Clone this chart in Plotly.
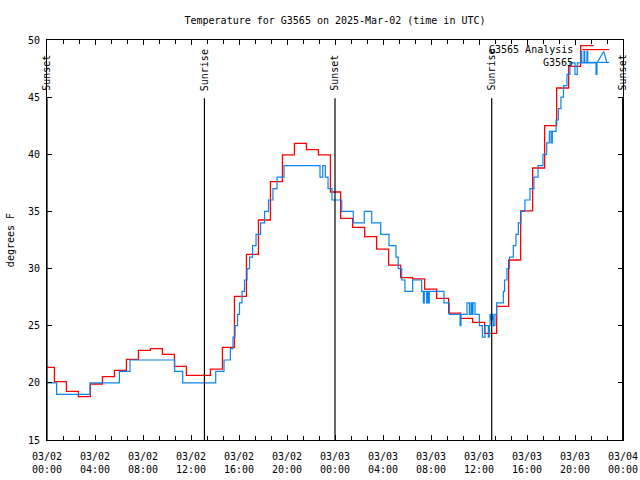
import plotly.graph_objects as go

# ---------------- data ----------------
# hours since 03/02 00:00 UTC
red_hours = [0.00, 0.62, 1.62, 2.62, 3.62, 4.62, 5.62, 6.62, 7.62, 8.62, 9.62, 10.62,
             11.62, 12.62, 13.62, 14.62, 15.62, 16.62, 17.62, 18.62, 19.62, 20.62, 21.62,
             22.62, 23.62, 24.47, 25.47, 26.47, 27.47, 28.47, 29.47, 30.47, 31.47, 32.47,
             33.47, 34.47, 35.47, 36.47, 37.47, 38.47, 39.47, 40.47, 41.47, 42.47, 43.47,
             44.47, 45.55]
red_temps = [21.36, 20.1, 19.26, 18.8, 19.9, 20.55, 21.1, 22.06, 22.85, 23.0, 22.5, 21.45,
             20.66, 20.66, 21.2, 23.1, 27.57, 31.25, 34.25, 37.6, 39.94, 40.96, 40.4,
             39.94, 36.7, 34.4, 33.6, 32.8, 31.7, 30.3, 29.2, 29.1, 28.2, 27.4,
             26.1, 25.65, 25.3, 24.33, 26.7, 30.75, 35.04, 38.8, 42.5, 45.8, 47.7,
             49.5, 49.5]

blue_hours = [0.00, 0.80, 3.58, 6.03, 6.92, 10.64, 11.31,
              14.06, 14.75, 15.28, 15.50, 15.67, 15.88, 16.04, 16.25, 16.46, 16.67, 16.88,
              17.13, 17.42, 17.80, 18.13, 18.46, 18.83, 19.17, 19.75,
              22.75, 22.98, 23.19, 23.42, 23.75, 24.56, 25.53, 26.44, 27.06, 27.81, 28.50,
              29.08, 29.27, 29.56, 29.83, 30.47, 31.22,
              31.36, 31.44, 31.64, 31.72, 31.78, 31.86,
              33.08, 33.53, 34.42, 34.50, 35.00, 35.20, 35.33, 35.42, 35.50, 35.67, 36.03,
              36.28, 36.50, 36.78, 36.86, 36.92, 36.96, 37.00, 37.04, 37.08, 37.12, 37.16,
              37.19, 37.33, 37.47, 38.03, 38.13, 38.33, 38.54, 38.86, 39.08, 39.28, 39.50,
              39.83, 40.25, 40.58, 40.92, 41.33, 41.64, 41.86, 42.00, 42.11, 42.42, 42.61,
              42.83, 43.04, 43.33, 43.58, 44.00, 44.19, 44.50, 44.56, 44.75, 44.81, 45.00,
              45.06, 45.75, 45.83]
blue_temps = [20, 19, 20, 21, 22, 21, 20,
              21, 22, 23, 24, 25, 26, 27, 28, 29, 30, 31,
              32, 33, 34, 35, 36, 37, 38, 39,
              38, 39, 38, 37, 36, 35, 34, 35, 34, 33, 32,
              31, 30, 29, 28, 29, 28,
              27, 28, 27, 28, 27, 28,
              27, 26, 25, 26, 27, 26, 27, 26, 27, 26, 25,
              24, 25, 24, 25, 26, 25.5, 26, 25.5, 26, 25.5, 26,
              25, 26, 27, 28, 29, 30, 31, 32, 33, 34, 35,
              36, 37, 38, 39, 40, 41, 42, 41, 42, 43, 44,
              45, 46, 47, 48, 47, 48, 49, 48, 49, 48, 49,
              48, 47, 48]
blue_tail_hours = [45.83, 46.39, 46.67]
blue_tail_temps = [48, 49, 48]

sun_hours = [0.0, 13.12, 24.0, 37.06, 47.97]
sun_labels = ["Sunset", "Sunrise", "Sunset", "Sunrise", "Sunset"]

tick_hours = [0, 4, 8, 12, 16, 20, 24, 28, 32, 36, 40, 44, 48]
tick_labels = ["03/02<br>00:00", "03/02<br>04:00", "03/02<br>08:00", "03/02<br>12:00",
               "03/02<br>16:00", "03/02<br>20:00", "03/03<br>00:00", "03/03<br>04:00",
               "03/03<br>08:00", "03/03<br>12:00", "03/03<br>16:00", "03/03<br>20:00",
               "03/04<br>00:00"]

RED = "#ff0000"
BLUE = "#0a84f0"
FONT = "DejaVu Sans Mono"

fig = go.Figure()
fig.add_trace(go.Scatter(x=red_hours, y=red_temps, mode="lines", line=dict(color=RED, width=1.3, shape="hv"),
                         name="G3565 Analysis", showlegend=False))
fig.add_trace(go.Scatter(x=blue_hours, y=blue_temps, mode="lines", line=dict(color=BLUE, width=1.2, shape="hv"),
                         name="G3565", showlegend=False))
fig.add_trace(go.Scatter(x=blue_tail_hours, y=blue_tail_temps, mode="lines", line=dict(color=BLUE, width=1.2),
                         showlegend=False))

shapes = []
annotations = []
for h, lab in zip(sun_hours, sun_labels):
    shapes.append(dict(type="line", xref="x", yref="y", x0=h, x1=h, y0=15, y1=44.9,
                       line=dict(color="black", width=1.2)))
    annotations.append(dict(x=h, y=0.868, xref="x", yref="paper", text=lab, textangle=-90,
                            showarrow=False, xanchor="center", yanchor="bottom",
                            font=dict(family=FONT, size=10, color="black")))

# legend (text left of sample line, gnuplot style)
leg = [("G3565 Analysis", RED, 0.976), ("G3565", BLUE, 0.944)]
for text, col, yy in leg:
    annotations.append(dict(x=0.917, y=yy, xref="paper", yref="paper", text=text, showarrow=False,
                            xanchor="right", yanchor="middle", font=dict(family=FONT, size=10, color="black")))
    shapes.append(dict(type="line", xref="paper", yref="paper", x0=0.929, x1=0.976, y0=yy, y1=yy,
                       line=dict(color=col, width=1.2)))

annotations.append(dict(x=-0.064, y=0.5, xref="paper", yref="paper", text="degrees F", textangle=-90,
                        showarrow=False, xanchor="center", yanchor="middle",
                        font=dict(family=FONT, size=10, color="black")))

fig.update_layout(
    width=640, height=480, autosize=False,
    margin=dict(l=47, r=17, t=40, b=40, autoexpand=False),
    paper_bgcolor="white", plot_bgcolor="white",
    title=dict(text="Temperature for G3565 on 2025-Mar-02 (time in UTC)", x=0.5, xref="paper",
               y=1 - 20 / 480, yref="container", yanchor="middle", xanchor="center",
               font=dict(family=FONT, size=10, color="black")),
    font=dict(family=FONT, size=10, color="black"),
    shapes=shapes, annotations=annotations,
    xaxis=dict(range=[0, 48], tickmode="array", tickvals=tick_hours, ticktext=tick_labels,
               ticks="inside", ticklen=5, tickcolor="black", showline=True, linecolor="black",
               linewidth=1, mirror="ticks", showgrid=False, zeroline=False, automargin=False,
               ticklabelstandoff=7,
               tickfont=dict(family=FONT, size=10, color="black"),
               minor=dict(dtick=4 / 3, tick0=0, ticks="inside", ticklen=4, tickcolor="black", showgrid=False)),
    yaxis=dict(range=[15, 50], tickmode="linear", tick0=15, dtick=5,
               ticks="inside", ticklen=5, tickcolor="black", showline=True, linecolor="black",
               linewidth=1, mirror="ticks", showgrid=False, zeroline=False, automargin=False,
               ticklabelstandoff=4,
               tickfont=dict(family=FONT, size=10, color="black")),
)

# remove the default 8px page margin so the 640x480 figure fills the window
fig.write_html("out.html", config={"displayModeBar": False},
               post_script="document.body.style.margin='0';document.body.style.overflow='hidden';")
